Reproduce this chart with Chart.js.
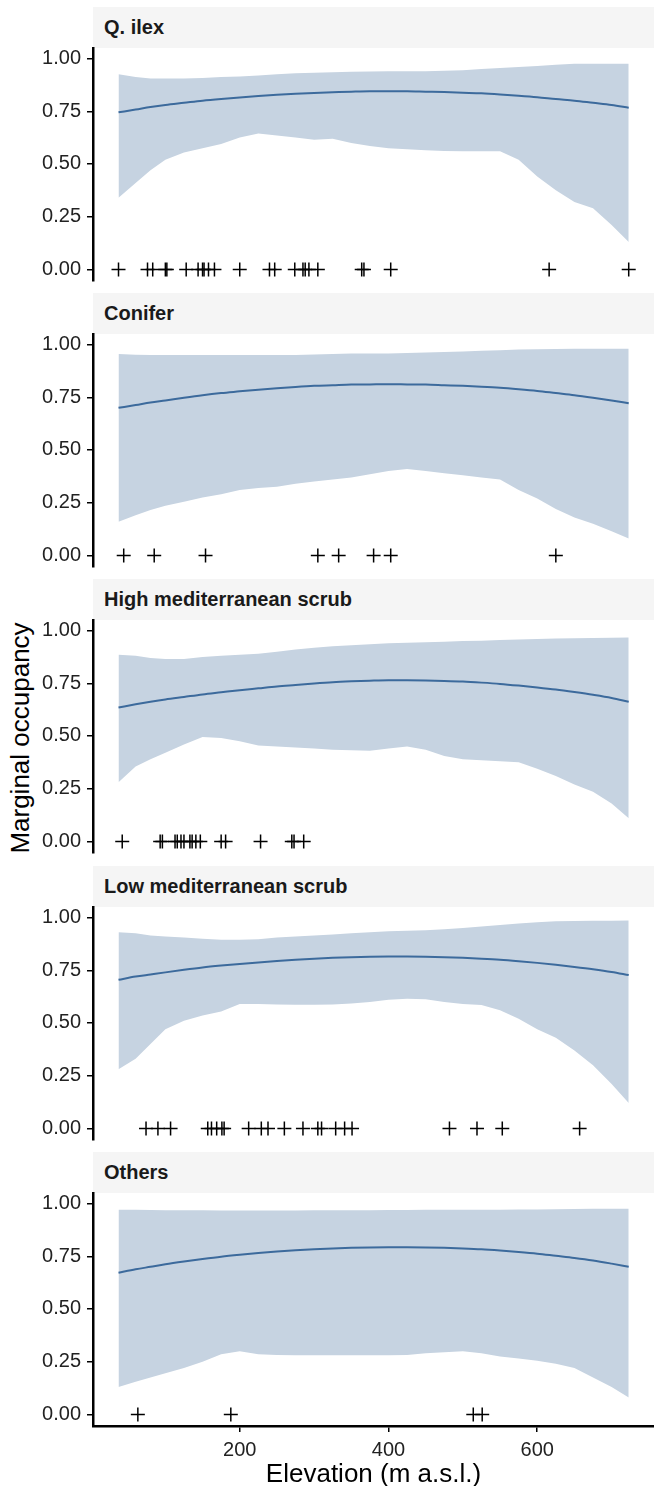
<!DOCTYPE html>
<html>
<head>
<meta charset="utf-8">
<script src="https://cdn.jsdelivr.net/npm/chart.js@4.4.1/dist/chart.umd.min.js"></script>
<style>
  html, body { margin: 0; padding: 0; background: #fff; }
  body { width: 654px; height: 1486px; position: relative; overflow: hidden;
         font-family: "Liberation Sans", Arial, sans-serif; }
  .strip { position: absolute; left: 93px; width: 561px; height: 41px; background: #f5f5f5;
           font-weight: bold; font-size: 20px; line-height: 41px; color: #1a1a1a;
           padding-left: 11px; box-sizing: border-box; white-space: nowrap; }
  .panel { position: absolute; left: 0; }
  #ytitle { position: absolute; left: 20px; top: 738px; transform: translate(-50%, -50%) rotate(-90deg);
            font-size: 26px; line-height: 1; white-space: nowrap; color: #000; }
</style>
</head>
<body>
<div id="ytitle">Marginal occupancy</div>
<script>
// elevation grid of the fitted curves (m a.s.l.)
const elevGrid = [37, 60, 80, 100, 125, 150, 175, 200, 225, 250, 275, 300, 325, 350, 375,
                  400, 425, 450, 475, 500, 525, 550, 575, 600, 625, 650, 675, 700, 723];

const xTicks = [200, 400, 600];
const yTicks = [0, 0.25, 0.5, 0.75, 1];

// Q. ilex
const qIlexMean  = [0.745, 0.758, 0.77, 0.78, 0.79, 0.80, 0.808, 0.815, 0.822, 0.828, 0.833, 0.837, 0.84, 0.843, 0.845,
                    0.845, 0.845, 0.843, 0.841, 0.838, 0.835, 0.83, 0.824, 0.817, 0.808, 0.80, 0.79, 0.78, 0.767];
const qIlexUpper = [0.925, 0.912, 0.905, 0.905, 0.905, 0.908, 0.912, 0.915, 0.92, 0.925, 0.93, 0.933, 0.935, 0.937, 0.938,
                    0.94, 0.94, 0.94, 0.942, 0.945, 0.95, 0.955, 0.96, 0.965, 0.97, 0.975, 0.975, 0.975, 0.975];
const qIlexLower = [0.34, 0.41, 0.47, 0.52, 0.555, 0.575, 0.595, 0.625, 0.645, 0.635, 0.625, 0.615, 0.62, 0.60, 0.585,
                    0.575, 0.57, 0.565, 0.562, 0.56, 0.56, 0.56, 0.52, 0.44, 0.375, 0.32, 0.29, 0.21, 0.13];
const qIlexObs = [37, 76, 83, 100, 102, 128, 144, 150, 152, 158, 166, 200, 240, 247, 274, 285, 288, 293, 305,
                  364, 367, 403, 616, 723];

// Conifer
const coniferMean  = [0.70, 0.713, 0.725, 0.735, 0.748, 0.76, 0.77, 0.778, 0.786, 0.793, 0.799, 0.804, 0.807, 0.81, 0.811,
                      0.812, 0.811, 0.81, 0.807, 0.804, 0.80, 0.795, 0.788, 0.78, 0.77, 0.76, 0.748, 0.735, 0.722];
const coniferUpper = [0.955, 0.952, 0.95, 0.95, 0.95, 0.95, 0.95, 0.95, 0.95, 0.95, 0.951, 0.953, 0.955, 0.957, 0.957,
                      0.957, 0.96, 0.962, 0.965, 0.967, 0.97, 0.973, 0.976, 0.978, 0.979, 0.98, 0.98, 0.98, 0.98];
const coniferLower = [0.16, 0.19, 0.215, 0.235, 0.255, 0.275, 0.29, 0.31, 0.32, 0.325, 0.34, 0.35, 0.36, 0.37, 0.385,
                      0.40, 0.41, 0.40, 0.39, 0.38, 0.37, 0.36, 0.31, 0.27, 0.22, 0.18, 0.15, 0.115, 0.08];
const coniferObs = [44, 85, 154, 305, 333, 380, 403, 625];

// High mediterranean scrub
const highMean  = [0.635, 0.65, 0.662, 0.673, 0.685, 0.697, 0.707, 0.717, 0.726, 0.735, 0.742, 0.749, 0.755, 0.759, 0.762,
                   0.764, 0.764, 0.763, 0.761, 0.758, 0.753, 0.747, 0.739, 0.73, 0.72, 0.708, 0.695, 0.68, 0.662];
const highUpper = [0.885, 0.88, 0.87, 0.865, 0.865, 0.875, 0.88, 0.885, 0.89, 0.90, 0.91, 0.918, 0.925, 0.93, 0.935,
                   0.94, 0.942, 0.945, 0.947, 0.95, 0.952, 0.955, 0.957, 0.96, 0.962, 0.964, 0.965, 0.966, 0.967];
const highLower = [0.28, 0.355, 0.39, 0.42, 0.46, 0.495, 0.49, 0.475, 0.455, 0.45, 0.445, 0.44, 0.435, 0.432, 0.43,
                   0.44, 0.45, 0.435, 0.405, 0.39, 0.385, 0.38, 0.375, 0.345, 0.31, 0.27, 0.235, 0.18, 0.11];
const highObs = [42, 93, 96, 113, 116, 121, 125, 133, 136, 141, 147, 175, 181, 228, 270, 273, 286];

// Low mediterranean scrub
const lowMean  = [0.705, 0.72, 0.73, 0.74, 0.752, 0.763, 0.772, 0.78, 0.787, 0.794, 0.80, 0.805, 0.809, 0.812, 0.814,
                  0.815, 0.815, 0.814, 0.812, 0.809, 0.805, 0.80, 0.793, 0.785, 0.776, 0.766, 0.755, 0.742, 0.727];
const lowUpper = [0.93, 0.925, 0.915, 0.91, 0.905, 0.90, 0.895, 0.895, 0.897, 0.905, 0.91, 0.915, 0.92, 0.925, 0.93,
                  0.935, 0.937, 0.94, 0.945, 0.95, 0.957, 0.965, 0.972, 0.978, 0.982, 0.984, 0.985, 0.985, 0.986];
const lowLower = [0.28, 0.33, 0.40, 0.47, 0.51, 0.535, 0.555, 0.59, 0.59, 0.588, 0.587, 0.587, 0.588, 0.592, 0.60,
                  0.61, 0.615, 0.612, 0.60, 0.59, 0.585, 0.56, 0.52, 0.47, 0.43, 0.37, 0.30, 0.21, 0.12];
const lowObs = [74, 90, 107, 157, 162, 169, 176, 179, 212, 229, 238, 260, 285, 305, 310, 329, 341, 351,
                482, 519, 553, 657];

// Others
const othersMean  = [0.672, 0.688, 0.70, 0.712, 0.725, 0.737, 0.748, 0.757, 0.765, 0.772, 0.778, 0.783, 0.787, 0.79, 0.792,
                     0.793, 0.793, 0.792, 0.79, 0.787, 0.783, 0.777, 0.77, 0.762, 0.752, 0.742, 0.73, 0.715, 0.70];
const othersUpper = [0.97, 0.97, 0.969, 0.968, 0.968, 0.968, 0.967, 0.967, 0.967, 0.967, 0.967, 0.968, 0.968, 0.968, 0.968,
                     0.969, 0.969, 0.97, 0.97, 0.97, 0.971, 0.971, 0.972, 0.972, 0.973, 0.974, 0.975, 0.975, 0.975];
const othersLower = [0.13, 0.155, 0.175, 0.195, 0.22, 0.25, 0.285, 0.30, 0.285, 0.282, 0.28, 0.28, 0.28, 0.28, 0.28,
                     0.28, 0.282, 0.29, 0.295, 0.30, 0.29, 0.275, 0.265, 0.255, 0.24, 0.22, 0.175, 0.13, 0.08];
const othersObs = [63, 188, 514, 526];

const panelNames = ["Q. ilex", "Conifer", "High mediterranean scrub", "Low mediterranean scrub", "Others"];

const panels = [
  { mean: qIlexMean, upper: qIlexUpper, lower: qIlexLower, obs: qIlexObs },
  { mean: coniferMean, upper: coniferUpper, lower: coniferLower, obs: coniferObs },
  { mean: highMean, upper: highUpper, lower: highLower, obs: highObs },
  { mean: lowMean, upper: lowUpper, lower: lowLower, obs: lowObs },
  { mean: othersMean, upper: othersUpper, lower: othersLower, obs: othersObs },
];

const FONT = '"Liberation Sans", Arial, sans-serif';
const lineCol = "#3c6a9c";
const ribbonCol = "#c6d3e1";
const tickCol = "#222";

// layout (px)
const W = 654, H = 1486;
const firstStrip = 7, panelStep = 286.2, stripH = 41, plotH = 233, padTop = 20;
const axisLeft = 93;

const pts = (ys) => elevGrid.map((x, i) => ({ x: x, y: ys[i] }));

panels.forEach((p, k) => {
  const T = Math.round(firstStrip + k * panelStep);
  const last = k === panels.length - 1;

  const strip = document.createElement("div");
  strip.className = "strip";
  strip.style.top = T + "px";
  strip.textContent = panelNames[k];
  document.body.appendChild(strip);

  const top = T + stripH - padTop;
  const h = last ? H - top : plotH + 2 * padTop;
  const wrap = document.createElement("div");
  wrap.className = "panel";
  wrap.style.top = top + "px";
  const cv = document.createElement("canvas");
  cv.width = W;
  cv.height = h;
  cv.style.width = W + "px";
  cv.style.height = h + "px";
  wrap.appendChild(cv);
  document.body.appendChild(wrap);

  const xScale = {
    type: "linear",
    min: 2.7,
    max: 757,
    display: last,
  };
  if (last) {
    Object.assign(xScale, {
      afterBuildTicks: (s) => { s.ticks = xTicks.map((v) => ({ value: v })); },
      afterFit: (s) => { s.height = H - (T + stripH + plotH); },
      ticks: { font: { size: 20, family: FONT }, color: tickCol, padding: 6, maxRotation: 0, autoSkip: false },
      grid: { drawOnChartArea: false, tickLength: 6, color: "#000", lineWidth: 1.5 },
      border: { color: "#000", width: 2.5 },
      title: { display: true, text: "Elevation (m a.s.l.)", color: "#000",
               font: { size: 26, family: FONT, lineHeight: 0.85 }, padding: { top: 0, bottom: 0 } },
    });
  }

  new Chart(cv, {
    type: "line",
    data: {
      datasets: [
        {
          data: p.obs.map((x) => ({ x: x, y: 0 })),
          showLine: false,
          pointStyle: "cross",
          pointRadius: 7,
          borderColor: "#000",
          backgroundColor: "#000",
          borderWidth: 1.5,
        },
        {
          data: pts(p.mean),
          borderColor: lineCol,
          borderWidth: 2,
          pointRadius: 0,
          fill: false,
          cubicInterpolationMode: "monotone",
        },
        {
          data: pts(p.upper),
          borderColor: "rgba(0,0,0,0)",
          borderWidth: 0,
          pointRadius: 0,
          backgroundColor: ribbonCol,
          fill: "+1",
        },
        {
          data: pts(p.lower),
          borderColor: "rgba(0,0,0,0)",
          borderWidth: 0,
          pointRadius: 0,
          fill: false,
        },
      ],
    },
    options: {
      responsive: false,
      animation: false,
      events: [],
      layout: { autoPadding: false, padding: { top: padTop, bottom: last ? 0 : padTop, left: 0, right: 0 } },
      plugins: {
        legend: { display: false },
        tooltip: { enabled: false },
        filler: { drawTime: "beforeDatasetsDraw" },
      },
      scales: {
        x: xScale,
        y: {
          min: -0.055,
          max: 1.05,
          afterBuildTicks: (s) => { s.ticks = yTicks.map((v) => ({ value: v })); },
          afterFit: (s) => { s.width = axisLeft; },
          ticks: {
            callback: (v) => Number(v).toFixed(2),
            font: { size: 20, family: FONT },
            color: tickCol,
            padding: 6,
          },
          grid: { drawOnChartArea: false, tickLength: 6, color: "#000", lineWidth: 1.5 },
          border: { color: "#000", width: 2.5 },
        },
      },
    },
  });
});
</script>
</body>
</html>
